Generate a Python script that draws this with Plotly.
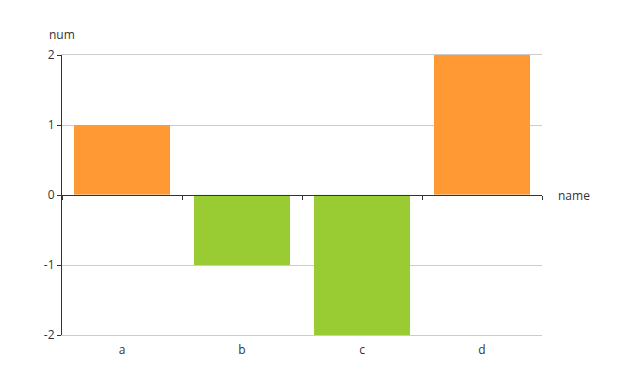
import plotly.graph_objects as go

categories = ["a", "b", "c", "d"]
values = [1, -1, -2, 2]
pos_color = "#FF9933"
neg_color = "#99CC33"
y_ticks = [-2, -1, 0, 1, 2]
y_tick_text = ["-2", "-1", "0", "1", "2"]

colors = [pos_color if v >= 0 else neg_color for v in values]

fig = go.Figure()
fig.add_trace(go.Bar(x=categories, y=values, marker=dict(color=colors, line=dict(width=0)),
                     xaxis="x", yaxis="y", showlegend=False, hoverinfo="x+y"))
# invisible trace on axis at zero to carry the zero-line axis
fig.add_trace(go.Bar(x=categories, y=[0]*len(categories), xaxis="x2", yaxis="y",
                     showlegend=False, hoverinfo="skip", marker=dict(color="rgba(0,0,0,0)")))

font = "Open Sans, Noto Sans, sans-serif"
fig.update_layout(
    width=628, height=389,
    margin=dict(l=54, r=94, t=47, b=62),
    paper_bgcolor="white", plot_bgcolor="white",
    bargap=0.2, barmode="overlay",
    font=dict(family=font, size=12, color="#333"),
    xaxis=dict(domain=[0, 1], type="category", showline=True, mirror=True, linecolor="#cccccc",
               linewidth=1, showgrid=False, zeroline=False,
               ticks="", ticklabelstandoff=4, tickfont=dict(size=12, color="#333")),
    xaxis2=dict(domain=[0, 1], type="category", overlaying="x", anchor="free", position=0.5,
                showline=True, linecolor="#333", linewidth=1, showgrid=False, zeroline=False,
                ticks="outside", ticklen=4, tickcolor="#333", tickson="boundaries",
                showticklabels=False, matches="x"),
    yaxis=dict(domain=[0, 1], range=[-2, 2], tickvals=y_ticks, ticktext=y_tick_text,
               showline=True, linecolor="#333",
               linewidth=1, ticks="outside", ticklen=4, tickcolor="#333",
               showgrid=True, gridcolor="#cccccc", gridwidth=1, zeroline=False,
               tickfont=dict(size=12, color="#333")),
    annotations=[
        dict(text="name", xref="paper", yref="paper", x=1, y=0.5, xanchor="left", yanchor="middle",
             xshift=14, showarrow=False, font=dict(size=12, color="#333")),
        dict(text="num", xref="paper", yref="paper", x=0, y=1, xanchor="center", yanchor="bottom",
             yshift=10, showarrow=False, font=dict(size=12, color="#333")),
    ],
)

fig.write_html("out.html")
